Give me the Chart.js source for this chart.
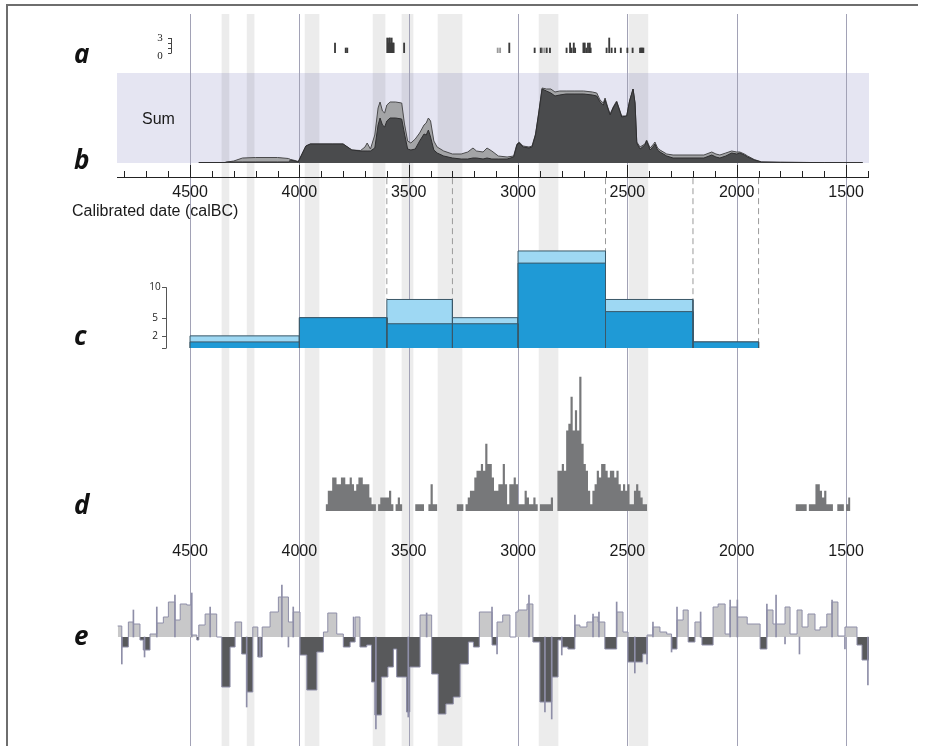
<!DOCTYPE html>
<html>
<head>
<meta charset="utf-8">
<script src="https://cdn.jsdelivr.net/npm/chart.js@4.4.1/dist/chart.umd.min.js"></script>
<style>
  html, body { margin: 0; padding: 0; background: #fff; }
  #page { position: relative; width: 926px; height: 746px; overflow: hidden; }
  canvas { position: absolute; left: 0; }
  .frame { position: absolute; left: 6px; top: 4px; width: 910px; height: 760px;
           border-top: 2px solid #6e6e6e; border-left: 2px solid #6e6e6e; }
  .letter { position: absolute; left: 74px; z-index: 5; line-height: 26px;
            font: italic bold 26px "Open Sans", sans-serif; color: #111; }
  .txt { position: absolute; z-index: 5; line-height: 16px;
         font: 16px "Liberation Sans", Arial, sans-serif; color: #1a1a1a; white-space: nowrap; }
</style>
</head>
<body>
<div id="page">
  <div class="frame"></div>
  <div class="letter" style="top:35px">a</div>
  <div class="letter" style="top:141px">b</div>
  <div class="letter" style="top:317px">c</div>
  <div class="letter" style="top:486px">d</div>
  <div class="letter" style="top:617px">e</div>
  <div class="txt" style="left:142px; top:110px">Sum</div>
  <div class="txt" style="left:72px; top:202px">Calibrated date (calBC)</div>
</div>
<script>
// shared time axis, calBC (older on the left)
const X_OLD = 4834, X_YOUNG = 1395;
const gridYears = [4500, 4000, 3500, 3000, 2500, 2000, 1500];

// grey event bands
const bandStart = [4354, 4239, 3974, 3663, 3531, 3366, 2904, 2492];
const bandEnd   = [4322, 4207, 3910, 3608, 3480, 3256, 2817, 2406];

// a: individual dates (count per year)
const aDarkYears  = [3837, 3788, 3781, 3598, 3594, 3590, 3586, 3582, 3578, 3573, 3569, 3521, 3040,
                     2924, 2896, 2869, 2854, 2778, 2762, 2755, 2745, 2739, 2701, 2695, 2688, 2680,
                     2672, 2668, 2595, 2583, 2572, 2556, 2530, 2500, 2476, 2442, 2437, 2432, 2427];
const aDarkCounts = [2, 1, 1, 3, 2, 3, 3, 2, 3, 2, 2, 2, 2,
                     1, 1, 1, 1, 1, 2, 1, 2, 1, 2, 2, 1, 2,
                     2, 1, 1, 3, 1, 1, 1, 1, 1, 1, 1, 1, 1];
const aLightYears  = [3093, 3082, 2890, 2880];
const aLightCounts = [1, 1, 1, 1];

// b: summed probability (all dates / subset)
const sumYears = [4460, 4340, 4330, 4300, 4260, 4200, 4100, 4050, 4040, 4020, 4005, 3990, 3970, 3950,
  3850, 3800, 3760, 3720, 3700, 3690, 3675, 3655, 3640, 3631, 3620, 3610, 3600, 3585, 3560, 3532,
  3520, 3505, 3490, 3470, 3450, 3430, 3420, 3410, 3400, 3385, 3370, 3340, 3300, 3260, 3230, 3206,
  3190, 3160, 3142, 3120, 3090, 3050, 3020, 3005, 2995, 2977, 2950, 2936, 2920, 2905, 2890, 2870,
  2850, 2831, 2810, 2780, 2740, 2700, 2660, 2640, 2625, 2610, 2602, 2590, 2579, 2565, 2549, 2535,
  2526, 2503, 2490, 2474, 2465, 2457, 2442, 2420, 2412, 2396, 2380, 2374, 2362, 2351, 2320, 2291,
  2250, 2200, 2150, 2114, 2095, 2077, 2050, 2023, 2000, 1986, 1965, 1950, 1920, 1886, 1800, 1600, 1424];
const sumTotal = [0.5, 0.5, 1, 2, 5, 5.5, 5.5, 4.5, 3.5, 2.5, 1.5, 8, 17, 19,
  19, 19, 13, 12.5, 16, 20, 14, 28, 55, 61, 52, 50, 58, 61, 61, 60,
  40, 22, 20, 24, 30, 38, 40, 45, 42, 22, 16, 12, 9, 9, 11, 15,
  12, 11, 15, 12, 7, 6, 7, 19, 21, 17, 16, 17, 29, 51, 75, 74,
  74, 71, 72, 72, 72, 72, 71, 70, 63, 60, 65, 56, 49, 56, 62, 53,
  47, 47, 62, 74, 60, 21, 16, 19, 23, 15, 19, 21, 15, 13, 9, 8,
  8, 8, 8, 11, 9, 8, 10, 12, 11, 11, 9, 7, 3.5, 1, 0.7, 0.4, 0.3];
const sumDark = [0.5, 0.5, 1, 1, 1, 1, 1, 1, 3, 2, 1, 8, 17, 19,
  19, 19, 13, 12, 12, 12, 12, 15, 38, 45, 38, 36, 42, 45, 45, 44,
  30, 14, 13, 14, 22, 29, 28, 33, 26, 13, 10, 7, 5, 4, 4, 5,
  5, 4, 5, 4, 4, 4, 6, 18, 20, 16, 15, 16, 28, 50, 74, 72,
  70, 67, 68, 69, 69, 69, 68, 67, 61, 58, 63, 55, 48, 55, 61, 52,
  46, 47, 62, 74, 60, 20, 14, 18, 22, 13, 17, 19, 13, 11, 7, 5,
  5, 5, 5, 8, 6, 5, 7, 10, 9, 10, 8, 6, 3, 1, 0.7, 0.4, 0.3];

// c: counts per phase (all sites / securely dated)
const binStart = [4500, 4000, 3600, 3300, 3000, 2600, 2200];
const binEnd   = [4000, 3600, 3300, 3000, 2600, 2200, 1900];
const binTotal = [2, 5, 8, 5, 16, 8, 1];
const binDark  = [1, 5, 4, 4, 14, 6, 1];
const cTicks = [0, 2, 5, 10];

// d: histogram of dates, 10-year bins
const dStart1 = 3880;
const dCounts1 = [1, 3, 3, 5, 5, 4, 4, 5, 5, 4, 4, 5, 4, 3, 4, 5, 5, 4, 4, 4, 2, 1, 1,
  0, 1, 2, 2, 2, 2, 3, 1, 0, 1, 2, 1,
  0, 0, 0, 0, 0, 0, 1, 1, 1, 1, 0, 0, 1, 4, 1, 1,
  0, 0, 0, 0, 0, 0, 0, 0, 0, 1, 1, 1, 0,
  1, 2, 3, 3, 5, 6, 6, 7, 6, 10, 7, 7, 5, 3, 3, 4, 4, 7, 4, 1, 4, 4, 5, 4,
  1, 1, 1, 3, 2, 1, 1, 2, 1, 0, 1, 1, 1, 1, 1, 2, 0, 0,
  6, 6, 7, 6, 12, 13, 17, 12, 15, 12, 20, 10, 7, 6, 3, 1, 3, 4, 6, 5,
  7, 7, 6, 5, 6, 6, 5, 6, 4, 3, 4, 3, 4, 1, 1, 3, 4, 3, 2, 1, 1];
const dStart2 = 1730;
const dCounts2 = [1, 1, 1, 1, 1, 0, 1, 1, 1, 4, 4, 3, 2, 3, 1, 1, 1, 0, 0, 1, 1, 1, 0, 1, 2];
const D_BIN = 10;

// e: deviation from expected (step series)
const eYears = [4831, 4812, 4782, 4759, 4729, 4714, 4683, 4652, 4622, 4599, 4569, 4545, 4515, 4495,
  4469, 4460, 4431, 4378, 4355, 4317, 4294, 4264, 4241, 4213, 4190, 4170, 4134, 4096, 4050, 4028,
  3997, 3966, 3920, 3890, 3870, 3829, 3799, 3768, 3745, 3723, 3692, 3670, 3655, 3625, 3595, 3570,
  3555, 3510, 3495, 3448, 3395, 3365, 3330, 3296, 3265, 3227, 3204, 3177, 3119, 3096, 3070, 3037,
  3010, 3000, 2959, 2932, 2900, 2846, 2817, 2800, 2772, 2740, 2717, 2685, 2657, 2634, 2603, 2549,
  2520, 2497, 2430, 2410, 2383, 2351, 2320, 2298, 2273, 2245, 2222, 2191, 2165, 2159, 2108, 2085,
  2053, 2030, 1997, 1952, 1893, 1862, 1834, 1779, 1756, 1724, 1701, 1674, 1642, 1619, 1588, 1564,
  1537, 1505, 1450, 1427, 1395];
const eValues = [11, -10, 15, 13, -3, -13, 3, 14, 20, 35, 17, 33, 32, 2,
  -3, 12, 23, 0, -50, -10, 15, -17, -55, 10, -20, 10, 25, 40, 15, 25,
  -18, -53, -15, 5, 24, 3, -10, -5, 20, -10, -8, -45, -78, -40, -30, -12,
  -40, -75, -30, 22, -37, -77, -67, -60, -27, -5, -10, 25, -8, 15, 22, 0,
  25, 27, 33, -5, -65, -40, -3, -10, -12, 12, 10, 15, 20, 15, -12, 25,
  5, -25, -17, 2, 10, 5, 3, -12, 17, 27, -5, 15, 0, -8, 30, 33,
  3, 30, 20, 13, -12, 27, 13, 30, 3, 27, 10, 23, 7, 10, 23, 35,
  1, 10, -8, -23, -23];
// thin overshoot strokes on the e outline
const eSpikeYears = [4812, 4759, 4708, 4652, 4569, 4492, 4408, 4241, 4180, 4080, 4050, 4028, 3752,
  3650, 3502, 3418, 3119, 3096, 2950, 2877, 2846, 2800, 2740, 2657, 2630, 2549, 2466, 2410, 2383,
  2298, 2273, 2165, 2030, 1997, 1862, 1820, 1779, 1713, 1564, 1505, 1400];
const eSpikeValues = [-27, 27, -20, 30, 42, 44, 30, -70, -20, 52, -10, 30, 20,
  -92, -80, 24, 30, -17, 42, -75, -82, -18, 22, 23, 25, 35, -36, -27, 15,
  -15, 30, 25, 37, 37, 33, 42, -7, -17, 37, -12, -48];

const page = document.getElementById('page');
function panel(top, height) {
  const c = document.createElement('canvas');
  c.width = 926; c.height = height;
  c.style.top = top + 'px';
  page.appendChild(c);
  return c;
}

function baseOptions(padTop, padBottom, yMin, yMax) {
  return {
    responsive: false,
    animation: false,
    events: [],
    layout: { padding: { left: 117, right: 57, top: padTop, bottom: padBottom } },
    plugins: { legend: { display: false }, tooltip: { enabled: false } },
    scales: {
      x: { type: 'linear', min: X_YOUNG, max: X_OLD, reverse: true, offset: false, display: false },
      y: { type: 'linear', min: yMin, max: yMax, display: false }
    }
  };
}

// ---- background: sum band, grey bands, vertical grid ----
const bgOpts = baseOptions(14, 0, 0, 1);
bgOpts.indexAxis = 'y';
bgOpts.scales.y = { type: 'category', display: false };
new Chart(panel(0, 746), {
  type: 'bar',
  data: {
    labels: ['band'],
    datasets: bandStart.map((s, i) => ({
      data: [[s, bandEnd[i]]],
      backgroundColor: 'rgba(0,0,0,0.075)',
      borderWidth: 0, grouped: false, barPercentage: 1, categoryPercentage: 1
    }))
  },
  options: bgOpts,
  plugins: [{
    id: 'bg',
    beforeDatasetsDraw(chart) {
      const { ctx, chartArea } = chart;
      ctx.save();
      ctx.fillStyle = '#e5e5f2';
      ctx.fillRect(chartArea.left, 73, chartArea.right - chartArea.left, 90);
      ctx.restore();
    },
    afterDatasetsDraw(chart) {
      const { ctx, chartArea, scales } = chart;
      ctx.save();
      ctx.strokeStyle = '#a2a2b6';
      ctx.lineWidth = 1;
      gridYears.forEach(y => {
        const px = Math.round(scales.x.getPixelForValue(y)) + 0.5;
        ctx.beginPath();
        ctx.moveTo(px, chartArea.top);
        ctx.lineTo(px, chartArea.bottom);
        ctx.stroke();
      });
      ctx.restore();
    }
  }]
});

// ---- a: date ticks ----
new Chart(panel(23, 42), {
  type: 'bar',
  data: {
    datasets: [
      { data: aDarkYears.map((x, i) => ({ x: x, y: aDarkCounts[i] })), backgroundColor: '#3c3c3c',
        barThickness: 1.2, grouped: false },
      { data: aLightYears.map((x, i) => ({ x: x, y: aLightCounts[i] })), backgroundColor: '#9a9a9a',
        barThickness: 1.2, grouped: false }
    ]
  },
  options: baseOptions(0, 12, 0, 6),
  plugins: [{
    id: 'aAxis',
    afterDraw(chart) {
      const { ctx, scales } = chart;
      const ax = 171;
      ctx.save();
      ctx.strokeStyle = '#444';
      ctx.lineWidth = 1;
      ctx.beginPath();
      ctx.moveTo(ax + 0.5, scales.y.getPixelForValue(0));
      ctx.lineTo(ax + 0.5, scales.y.getPixelForValue(3));
      [0, 1, 2, 3].forEach(v => {
        const py = Math.round(scales.y.getPixelForValue(v)) + 0.5;
        ctx.moveTo(ax - 3, py); ctx.lineTo(ax + 0.5, py);
      });
      ctx.stroke();
      ctx.fillStyle = '#222';
      ctx.font = '11px "Liberation Serif", serif';
      ctx.textAlign = 'center';
      ctx.textBaseline = 'middle';
      ctx.fillText('3', 160, scales.y.getPixelForValue(3));
      ctx.fillText('0', 160, scales.y.getPixelForValue(0) + 3);
      ctx.restore();
    }
  }]
});

// ---- b: summed probability ----
new Chart(panel(60, 160), {
  type: 'line',
  data: {
    datasets: [
      { data: sumYears.map((x, i) => ({ x: x, y: sumDark[i] })), fill: 'origin',
        backgroundColor: '#4a4b4d', borderColor: '#2e2e30', borderWidth: 1, pointRadius: 0, tension: 0 },
      { data: sumYears.map((x, i) => ({ x: x, y: sumTotal[i] })), fill: 'origin',
        backgroundColor: '#a3a4a6', borderColor: '#4a4a4c', borderWidth: 1, pointRadius: 0, tension: 0 }
    ]
  },
  options: baseOptions(0, 57, 0, 103),
  plugins: [{
    id: 'bAxis',
    afterDraw(chart) {
      const { ctx, chartArea, scales } = chart;
      const ay = chartArea.bottom + 14;
      ctx.save();
      ctx.strokeStyle = '#222';
      ctx.lineWidth = 1;
      ctx.beginPath();
      ctx.moveTo(chartArea.left, ay + 0.5);
      ctx.lineTo(chartArea.right, ay + 0.5);
      for (let y = 4800; y >= 1400; y -= 100) {
        const px = Math.round(scales.x.getPixelForValue(y)) + 0.5;
        ctx.moveTo(px, ay);
        ctx.lineTo(px, ay - (y % 500 === 0 ? 12 : 6));
      }
      ctx.stroke();
      ctx.fillStyle = '#1a1a1a';
      ctx.font = '16px "Liberation Sans", Arial, sans-serif';
      ctx.textAlign = 'center';
      ctx.textBaseline = 'middle';
      gridYears.forEach(y => ctx.fillText(String(y), scales.x.getPixelForValue(y), ay + 16));
      ctx.restore();
    }
  }]
});

// ---- c: phase counts ----
const cDatasets = [];
binStart.forEach((s, i) => {
  const rect = h => [{ x: s, y: 0 }, { x: s, y: h }, { x: binEnd[i], y: h }, { x: binEnd[i], y: 0 }];
  cDatasets.push({ data: rect(binDark[i]), fill: 'origin', backgroundColor: '#1f9ad6',
    borderColor: '#3b5868', borderWidth: 1, pointRadius: 0, order: 0 });
  cDatasets.push({ data: rect(binTotal[i]), fill: 'origin', backgroundColor: '#9ed8f3',
    borderColor: '#3b5868', borderWidth: 1, pointRadius: 0, order: 1 });
});
// dashed guides from the date axis down to the phase boundaries
const DASH_TOP = 28;
[3600, 3300, 2600, 2200, 1900].forEach(edge => {
  let top = 0;
  binStart.forEach((s, i) => { if (s === edge || binEnd[i] === edge) top = Math.max(top, binTotal[i]); });
  cDatasets.push({ data: [{ x: edge, y: DASH_TOP }, { x: edge, y: top }], fill: false,
    borderColor: '#9a9a9a', borderWidth: 1, borderDash: [6, 4], pointRadius: 0, order: 2 });
});
new Chart(panel(160, 200), {
  type: 'line',
  data: { datasets: cDatasets },
  options: baseOptions(0, 12, 0, 31),
  plugins: [{
    id: 'cAxis',
    afterDraw(chart) {
      const { ctx, scales } = chart;
      const ax = 166;
      ctx.save();
      ctx.strokeStyle = '#555';
      ctx.lineWidth = 1;
      ctx.beginPath();
      ctx.moveTo(ax + 0.5, scales.y.getPixelForValue(0));
      ctx.lineTo(ax + 0.5, scales.y.getPixelForValue(10));
      cTicks.forEach(v => {
        const py = Math.round(scales.y.getPixelForValue(v)) + 0.5;
        ctx.moveTo(ax - 4, py); ctx.lineTo(ax + 0.5, py);
      });
      ctx.stroke();
      ctx.fillStyle = '#222';
      ctx.font = '10px "Open Sans", sans-serif';
      ctx.textAlign = 'center';
      ctx.textBaseline = 'middle';
      cTicks.filter(v => v > 0).forEach(v => ctx.fillText(String(v), 155, scales.y.getPixelForValue(v)));
      ctx.restore();
    }
  }]
});

// ---- d: histogram ----
const dPoints = [];
dCounts1.forEach((c, i) => dPoints.push({ x: dStart1 - i * D_BIN, y: c }));
dPoints.push({ x: dStart1 - dCounts1.length * D_BIN, y: 0 });
dCounts2.forEach((c, i) => dPoints.push({ x: dStart2 - i * D_BIN, y: c }));
dPoints.push({ x: dStart2 - dCounts2.length * D_BIN, y: 0 });
new Chart(panel(370, 200), {
  type: 'line',
  data: {
    datasets: [{ data: dPoints, stepped: 'before', fill: 'origin', backgroundColor: '#77787a',
      borderWidth: 0, pointRadius: 0 }]
  },
  options: baseOptions(0, 59, 0, 21),
  plugins: [{
    id: 'dLabels',
    afterDraw(chart) {
      const { ctx, chartArea, scales } = chart;
      ctx.save();
      ctx.fillStyle = '#1a1a1a';
      ctx.font = '16px "Liberation Sans", Arial, sans-serif';
      ctx.textAlign = 'center';
      ctx.textBaseline = 'middle';
      gridYears.forEach(y => ctx.fillText(String(y), scales.x.getPixelForValue(y), chartArea.bottom + 41));
      ctx.restore();
    }
  }]
});

// ---- e: deviation ----
new Chart(panel(577, 169), {
  type: 'line',
  data: {
    datasets: [
      {
        type: 'bar',
        data: eSpikeYears.map((x, i) => ({ x: x, y: [0, eSpikeValues[i]] })),
        backgroundColor: '#8e8ea8', barThickness: 1, grouped: false, order: 0
      },
      {
        data: eYears.map((x, i) => ({ x: x, y: eValues[i] })),
        stepped: 'before',
        fill: { target: 'origin', above: '#c8c8c9', below: '#58595b' },
        borderColor: '#8e8ea8', borderWidth: 1, pointRadius: 0, order: 1
      }
    ]
  },
  options: baseOptions(0, 0, -109, 60)
});
</script>
</body>
</html>
